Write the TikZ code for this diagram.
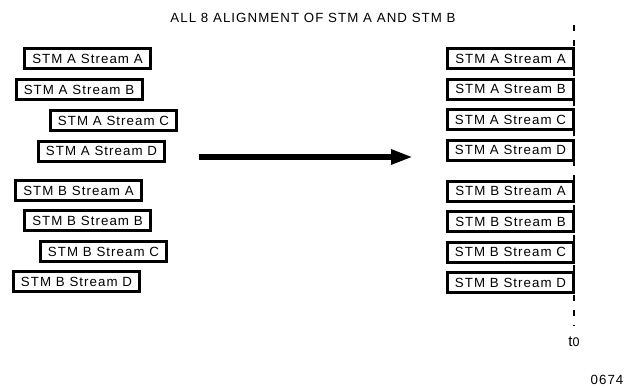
\documentclass[tikz,border=0pt]{standalone}
\usepackage{fontspec}
\setmainfont{Liberation Sans}[LetterSpace=8]
\usetikzlibrary{arrows.meta}
\usetikzlibrary{positioning}

\begin{document}
\begin{tikzpicture}[
        x=1pt, y=-1pt,
        node distance=30.5pt,
        on grid,
        every node/.style={font=\fontsize{13.3}{15}\selectfont},
        stream/.style={draw, line width=3pt, fill=white, inner sep=0pt,
            minimum width=126pt, minimum height=20pt}
    ]
    \useasboundingbox (0,0) rectangle (629,388);

    % Title
    \node (title) at (313,18) {ALL 8 ALIGNMENT OF STM A AND STM B};

    % Time reference line
    \coordinate (ttop) at (574,25);
    \coordinate (tbot) at (574,326);
    \node[font=\fontsize{15}{17}\selectfont] (tzero) at (574,342)
        {t{\fontsize{12.5}{14}\selectfont 0}};
    \draw[line width=2.5pt, dash pattern=on 6pt off 9pt] (ttop) -- (tbot);

    % Streams before alignment
    \node[stream] (lAA) at (87.5,58.5) {STM A Stream A};
    \node[stream] (lAB) at (79,89.5) {STM A Stream B};
    \node[stream] (lAC) at (113.5,120.5) {STM A Stream C};
    \node[stream] (lAD) at (101.5,151) {STM A Stream D};
    \node[stream] (lBA) at (78.5,190.5) {STM B Stream A};
    \node[stream] (lBB) at (87.5,220.5) {STM B Stream B};
    \node[stream] (lBC) at (103.5,251.5) {STM B Stream C};
    \node[stream] (lBD) at (76.5,281.5) {STM B Stream D};

    % Streams after alignment
    \node[stream] (rAA) at (510.5,58.5) {STM A Stream A};
    \node[stream, below=of rAA] (rAB) {STM A Stream B};
    \node[stream, below=of rAB] (rAC) {STM A Stream C};
    \node[stream, below=of rAC] (rAD) {STM A Stream D};
    \node[stream, below=41pt of rAD] (rBA) {STM B Stream A};
    \node[stream, below=of rBA] (rBB) {STM B Stream B};
    \node[stream, below=of rBB] (rBC) {STM B Stream C};
    \node[stream, below=of rBC] (rBD) {STM B Stream D};

    % Alignment arrow
    \coordinate (arrS) at (199,157);
    \coordinate (arrE) at (413,157);
    \draw[line width=6pt, -{Triangle[length=22pt,width=14pt]}] (arrS) -- (arrE);

    % Figure number
    \node (fignum) at (607,380) {0674};

\end{tikzpicture}
\end{document}
